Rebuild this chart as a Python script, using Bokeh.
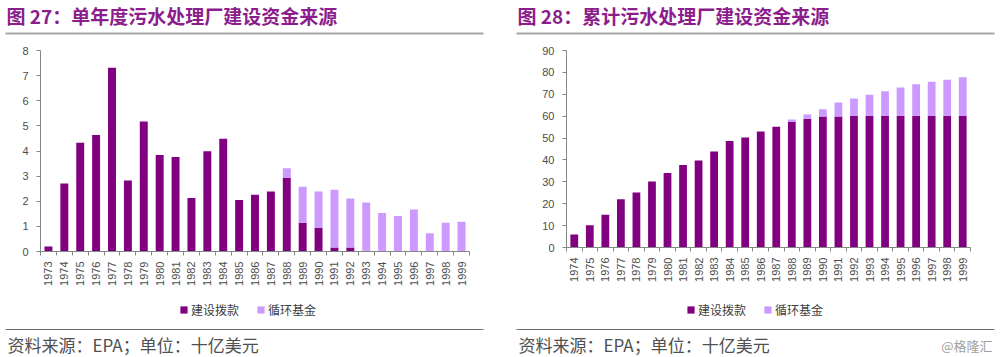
import math
from bokeh.plotting import figure
from bokeh.models import (Range1d, FixedTicker, Label, BoxAnnotation, Legend, LegendItem,
                          ColumnDataSource)
from bokeh.layouts import row, column
from bokeh.embed import file_html
from bokeh.resources import INLINE

# ---------------- data ----------------
years_single = [1973, 1974, 1975, 1976, 1977, 1978, 1979, 1980, 1981, 1982, 1983, 1984, 1985,
                1986, 1987, 1988, 1989, 1990, 1991, 1992, 1993, 1994, 1995, 1996, 1997, 1998, 1999]
loans_single = [0.20, 2.71, 4.33, 4.64, 7.31, 2.83, 5.17, 3.84, 3.76, 2.13, 3.99, 4.49, 2.05,
                2.26, 2.39, 2.93, 1.14, 0.95, 0.16, 0.16, 0.03, 0.03, 0.0, 0.0, 0.0, 0.0, 0.0]
srf_single = [0.0, 0.0, 0.0, 0.0, 0.0, 0.0, 0.0, 0.0, 0.0, 0.0, 0.0, 0.0, 0.0,
              0.0, 0.0, 0.38, 1.44, 1.44, 2.30, 1.95, 1.92, 1.50, 1.41, 1.67, 0.73, 1.14, 1.18]

years_cum = [1974, 1975, 1976, 1977, 1978, 1979, 1980, 1981, 1982, 1983, 1984, 1985, 1986,
             1987, 1988, 1989, 1990, 1991, 1992, 1993, 1994, 1995, 1996, 1997, 1998, 1999]
loans_cum = [5.9, 10.2, 15.0, 22.0, 25.1, 30.1, 34.0, 37.7, 39.8, 43.9, 48.6, 50.3, 53.0,
             55.2, 57.4, 58.8, 59.9, 59.9, 60.2, 60.2, 60.2, 60.2, 60.2, 60.2, 60.2, 60.2]
srf_cum = [0.0, 0.0, 0.0, 0.0, 0.0, 0.0, 0.0, 0.0, 0.0, 0.0, 0.0, 0.0, 0.0,
           0.0, 1.1, 2.0, 3.3, 6.4, 7.9, 9.6, 11.2, 12.9, 14.4, 15.5, 16.4, 17.6]

series_names = ["建设拨款", "循环基金"]
title_left = "图 27：单年度污水处理厂建设资金来源"
title_right = "图 28：累计污水处理厂建设资金来源"
footer_text = "资料来源：EPA；单位：十亿美元"
watermark = "@格隆汇"
yticks_left = [0, 1, 2, 3, 4, 5, 6, 7, 8]
yticks_right = [0, 10, 20, 30, 40, 50, 60, 70, 80, 90]

# ---------------- styles ----------------
DARK = "#800080"
LIGHT = "#CC99FF"
TITLE_COLOR = "#8C1D8C"
AXIS_COLOR = "#868686"
TICK_TEXT = "#4D4D4D"
CJK = "Noto Sans CJK SC"
LATIN = "Liberation Sans"

HEADER_H = 40   # page y 0..40
CHART_H = 255   # page y 40..295
FOOTER_H = 62   # page y 295..357
FOOTER_Y0 = 295


def blank_fig(w, h):
    f = figure(width=w, height=h, x_range=Range1d(0, w), y_range=Range1d(0, h),
               x_axis_type=None, y_axis_type=None, min_border=0,
               min_border_left=0, min_border_right=0, min_border_top=0, min_border_bottom=0,
               toolbar_location=None, output_backend="svg", outline_line_color=None,
               background_fill_color="white", border_fill_color="white",
               frame_align=False)
    f.grid.visible = False
    return f


def hline(f, x0, x1, ytop, ybot, color):
    f.add_layout(BoxAnnotation(left=x0, right=x1, top=ytop, bottom=ybot,
                               left_units="screen", right_units="screen",
                               top_units="screen", bottom_units="screen",
                               fill_color=color, fill_alpha=1.0, line_color=None,
                               line_alpha=0))


def make_panel(years, dark, light, yticks, ymax, title, W, bl, br, bt, fh, px0, title_x,
               rule_x0, legend_x, add_watermark=False):
    src = ColumnDataSource(dict(x=years, a=dark, b=light))

    # ---------- header ----------
    h = blank_fig(W, HEADER_H)
    h.add_layout(Label(x=title_x - px0, y=HEADER_H - 15, x_units="screen",
                       y_units="screen", text=title, text_font=CJK, text_font_size="19px",
                       text_font_style="bold", text_color=TITLE_COLOR,
                       text_baseline="middle", text_align="left"))
    hline(h, rule_x0 - px0, rule_x0 - px0 + 478, HEADER_H - 32, HEADER_H - 34, "#A6A6A6")

    # ---------- chart ----------
    p = figure(width=W, height=CHART_H,
               x_range=Range1d(years[0] - 0.5, years[-1] + 0.5),
               y_range=Range1d(0, ymax),
               min_border_left=bl, min_border_right=br,
               min_border_top=bt, min_border_bottom=CHART_H - bt - fh,
               toolbar_location=None, output_backend="svg",
               outline_line_color=None, background_fill_color="white",
               border_fill_color="white", frame_align=False)
    p.xgrid.visible = False
    p.ygrid.visible = False

    p.vbar_stack(["a", "b"], x="x", width=0.5, source=src,
                 color=[DARK, LIGHT], line_color=None)

    xa = p.xaxis[0]
    boundaries = [y - 0.5 for y in years] + [years[-1] + 0.5]
    xa.ticker = FixedTicker(ticks=years, minor_ticks=boundaries)
    xa.axis_line_color = AXIS_COLOR
    xa.major_tick_line_color = None
    xa.major_tick_out = 0
    xa.major_tick_in = 0
    xa.minor_tick_line_color = AXIS_COLOR
    xa.minor_tick_out = 4
    xa.minor_tick_in = 0
    xa.major_label_orientation = math.pi / 2
    xa.major_label_standoff = 6
    xa.major_label_text_font = LATIN
    xa.major_label_text_font_size = "11px"
    xa.major_label_text_color = TICK_TEXT

    ya = p.yaxis[0]
    ya.ticker = FixedTicker(ticks=yticks)
    ya.axis_line_color = AXIS_COLOR
    ya.major_tick_line_color = AXIS_COLOR
    ya.major_tick_out = 4
    ya.major_tick_in = 0
    ya.minor_tick_line_color = None
    ya.major_label_standoff = 8
    ya.major_label_text_font = LATIN
    ya.major_label_text_font_size = "11px"
    ya.major_label_text_color = TICK_TEXT

    # ---------- footer ----------
    f = blank_fig(W, FOOTER_H)
    # legend keys: the same stacked series, drawn off-range (only the legend shows)
    rs = f.vbar_stack(["a", "b"], x="x", width=0.5, source=src,
                      color=[DARK, LIGHT], line_color=None)
    legend = Legend(items=[LegendItem(label=series_names[0], renderers=[rs[0]]),
                           LegendItem(label=series_names[1], renderers=[rs[1]])],
                    location=(legend_x - 1 - px0, FOOTER_H - (318 - FOOTER_Y0)),
                    orientation="horizontal",
                    glyph_width=9, glyph_height=9, label_height=12, label_width=10,
                    label_standoff=3, spacing=17, padding=0, margin=0,
                    label_text_font=CJK, label_text_font_size="12px",
                    label_text_color="#404040", label_text_baseline="middle",
                    border_line_color=None, background_fill_alpha=0)
    f.add_layout(legend)
    hline(f, rule_x0 - px0, rule_x0 - px0 + 478,
          FOOTER_H - (328.5 - FOOTER_Y0), FOOTER_H - (329.5 - FOOTER_Y0), "#6E6E6E")
    f.add_layout(Label(x=title_x + 1 - px0, y=FOOTER_H - (344 - FOOTER_Y0), x_units="screen",
                       y_units="screen", text=footer_text, text_font=CJK,
                       text_font_size="17px", text_color="#505050",
                       text_baseline="middle", text_align="left"))
    if add_watermark:
        f.add_layout(Label(x=992 - px0, y=FOOTER_H - (345 - FOOTER_Y0), x_units="screen",
                           y_units="screen", text=watermark, text_font=CJK,
                           text_font_size="13px", text_color="#A0A0A0",
                           text_baseline="middle", text_align="right"))
    return column(h, p, f, spacing=0)


left = make_panel(years_single, loans_single, srf_single, yticks_left, 8, title_left,
                  W=512, bl=40, br=43, bt=10, fh=201, px0=0, title_x=6,
                  rule_x0=5, legend_x=180)
right = make_panel(years_cum, loans_cum, srf_cum, yticks_right, 90, title_right,
                   W=488, bl=54, br=30, bt=10, fh=197, px0=512, title_x=517,
                   rule_x0=516, legend_x=687, add_watermark=True)

layout = row(left, right, spacing=0)
open("out.html", "w").write(file_html(layout, INLINE))
